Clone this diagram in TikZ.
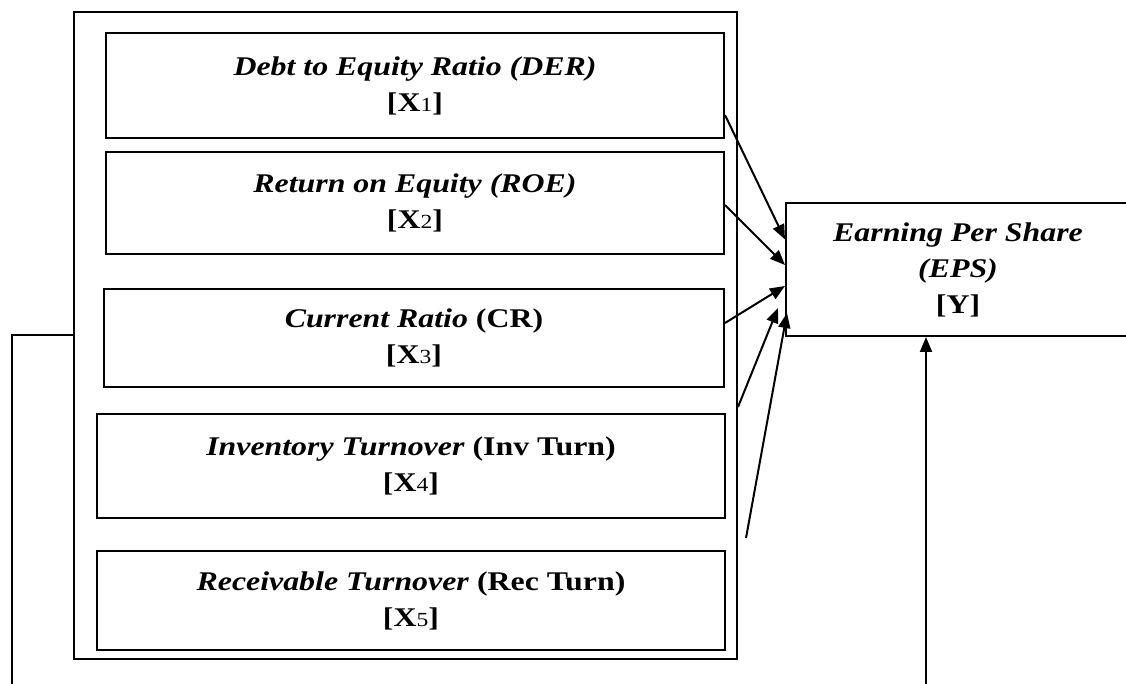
\documentclass[tikz,border=0pt]{standalone}
\usepackage{fontspec}
\setmainfont{Liberation Serif}[FakeStretch=1.18]
\usetikzlibrary{%
    arrows.meta,
    positioning
}
\tikzset{varbox/.style = {draw, line width=1pt, inner sep=0pt, align=center,
    font=\fontsize{13.5}{18}\selectfont\bfseries}}
\tikzset{effect/.style = {line width=1pt, -{Triangle[length=7.5pt, width=6pt]}}}
\newcommand{\varsym}[1]{[X{\fontsize{10}{10}\selectfont\mdseries #1}]}

\begin{document}
\begin{tikzpicture}[x=0.5pt, y=-0.5pt]
    \useasboundingbox (0,0) rectangle (1126,684);

    % independent variables
    \node[draw, line width=1pt, minimum width=331.5pt, minimum height=323.5pt] (frame) at (405.5,335.5) {};
    \node[varbox, minimum width=309pt, minimum height=52.5pt] (x1) at (415,85.5)
        {\textit{Debt to Equity Ratio (DER)}\\ \varsym{1}};
    \node[varbox, minimum width=309pt, minimum height=51pt] (x2) [below=6pt of x1]
        {\textit{Return on Equity (ROE)}\\ \varsym{2}};
    \node[varbox, minimum width=310pt, minimum height=49pt] (x3) [below=16.5pt of x2, xshift=-0.5pt]
        {\textit{Current Ratio} (CR)\\ \varsym{3}};
    \node[varbox, minimum width=314pt, minimum height=52pt] (x4) [below=12.5pt of x3, xshift=-1.5pt]
        {\textit{Inventory Turnover} (Inv Turn)\\ \varsym{4}};
    \node[varbox, minimum width=314pt, minimum height=49.5pt] (x5) [below=15.5pt of x4]
        {\textit{Receivable Turnover} (Rec Turn)\\ \varsym{5}};

    % dependent variable
    \node[varbox, minimum width=172pt, minimum height=66.5pt] (eps) at (958,269.5)
        {\textit{Earning Per Share}\\ \textit{(EPS)}\\ {[Y]}};

    % arrow ends
    \coordinate (x1-out) at ([yshift=-14.75pt]x1.east);
    \coordinate (x2-out) at ([yshift=-1pt]x2.east);
    \coordinate (x3-out) at ([yshift=7.5pt]x3.east);
    \coordinate (frame-out) at ([yshift=-35.75pt]frame.east);
    \coordinate (rec-out) at (746,538);
    \coordinate (eps-in1) at ([yshift=15pt]eps.west);
    \coordinate (eps-in2) at ([yshift=2.25pt]eps.west);
    \coordinate (eps-in3) at ([yshift=-8.25pt]eps.west);
    \coordinate (eps-in4) at ([xshift=-3.5pt, yshift=-19.25pt]eps.west);
    \coordinate (eps-in5) at ([xshift=1pt, yshift=-21.75pt]eps.west);

    % partial effects
    \foreach \Source/\Target in {%
        x1-out/eps-in1,
        x2-out/eps-in2,
        x3-out/eps-in3,
        frame-out/eps-in4,
        rec-out/eps-in5%
        }
        \draw[effect] (\Source) -- (\Target);

    % simultaneous effect
    \coordinate (left-low) at (12,690);
    \coordinate (right-low) at (926,690);
    \draw[line width=1pt] (frame.west) -| (left-low);
    \draw[effect] (right-low) -- (right-low |- eps.south);
\end{tikzpicture}
\end{document}
